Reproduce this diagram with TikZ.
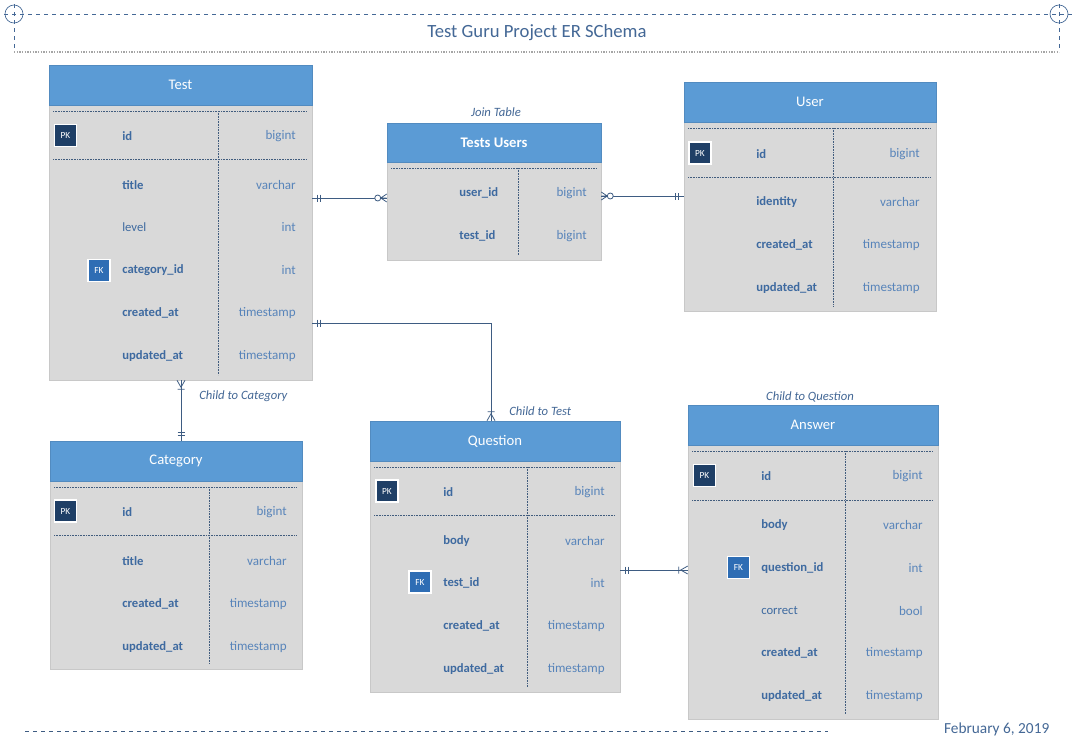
\documentclass[tikz,border=0pt]{standalone}
\usepackage{fontspec}
\setmainfont{Carlito}
\usetikzlibrary{positioning}
\definecolor{headblue}{RGB}{91,155,213}
\definecolor{bodygray}{RGB}{217,217,217}
\definecolor{edgegray}{RGB}{200,200,200}
\definecolor{fieldblue}{RGB}{62,106,160}
\definecolor{typeblue}{RGB}{88,132,186}
\definecolor{linkblue}{RGB}{62,92,130}
\definecolor{pknavy}{RGB}{31,63,102}
\definecolor{fkblue}{RGB}{46,109,180}
\definecolor{titleblue}{RGB}{68,104,150}
\tikzstyle{tablehead}=[rectangle,fill=headblue,draw=headblue!90!black,text=white,font=\fontsize{11}{13}\selectfont,inner sep=0pt]
\tikzstyle{tablebody}=[rectangle,fill=bodygray,draw=edgegray,inner sep=0pt]
\tikzstyle{field}=[anchor=west,text=fieldblue,font=\fontsize{9.5}{11}\selectfont,inner sep=0pt,yshift=-0.75pt]
\tikzstyle{ftype}=[anchor=east,text=typeblue,font=\fontsize{9.8}{11}\selectfont,inner sep=0pt,yshift=-0.75pt]
\tikzstyle{pk}=[rectangle,fill=pknavy,draw=white,line width=0.9pt,minimum size=16.5pt,text=white,font=\fontsize{7}{8}\selectfont,inner sep=0pt]
\tikzstyle{fk}=[pk,fill=fkblue]
\tikzstyle{sep}=[draw=pknavy!85,line width=0.5pt,dash pattern=on 0.6pt off 0.6pt]
\tikzstyle{link}=[draw=linkblue,line width=0.6pt]
\tikzstyle{note}=[text=titleblue,font=\itshape\fontsize{9.5}{11}\selectfont,inner sep=0pt]
\tikzset{
  box/.style 2 args={minimum width=#1*0.75pt,minimum height=#2*0.75pt},
  onebar/.pic={\draw[link] (5,-3.5) -- (5,3.5) (8,-3.5) -- (8,3.5);},
  zeromany/.pic={\draw[link] (0,-4) -- (6,0) -- (0,4) (0,0) -- (6,0);
                 \draw[link,fill=white] (9,0) circle (3);},
  onemany/.pic={\draw[link] (0,-4) -- (7,0) -- (0,4) (9,-3.5) -- (9,3.5);}
}

\begin{document}
\begin{tikzpicture}[x=0.75pt,y=-0.75pt]
    \useasboundingbox[fill=white] (0,0) rectangle (1074,747);

    % title frame
    \draw[titleblue,dashed,line width=0.5pt] (4,14) -- (1072,14);
    \draw[titleblue,dashed,line width=0.5pt] (14,4) -- (14,52) (1059,4) -- (1059,52);
    \draw[gray!70,line width=0.8pt,dash pattern=on 1pt off 1pt] (14,52) -- (1059,52);
    \draw[titleblue,line width=0.5pt] (14,14) circle (9) (1059,14) circle (9);
    \node[text=titleblue,font=\fontsize{14}{16}\selectfont] (title) at (537,33) {Test Guru Project ER SChema};

    % Test
    \node[tablebody,box={263}{275}] (test-body) at (180.5,242.5) {};
    \node[tablehead,box={263}{40}] (test) at (180.5,85) {Test};
    \draw[sep] (53,111) -- (307,111) (53,159) -- (307,159) (218,111) -- (218,375);
    \node[pk] (test-pk) at (65.5,135.5) {PK};
    \node[fk] (test-fk) at (99,270.5) {FK};
    \foreach \y/\n/\t [count=\i] in {135/\textbf{id}/bigint, 184/\textbf{title}/varchar, 226/level/int,
        269/\textbf{category\_id}/int, 312/\textbf{created\_at}/timestamp, 355/\textbf{updated\_at}/timestamp}
    {
        \node[field] (test-n\i) at (122,\y) {\n};
        \node[ftype] (test-t\i) at (296,\y) {\t};
    }

    % Tests Users
    \node[tablebody,box={214}{98}] (tu-body) at (494,211) {};
    \node[tablehead,box={214}{39},font=\bfseries\fontsize{11}{13}\selectfont] (tu) at (494,142.5) {Tests Users};
    \draw[sep] (391,168) -- (596,168) (518,168) -- (518,255);
    \foreach \y/\n/\t [count=\i] in {192/\textbf{user\_id}/bigint, 235/\textbf{test\_id}/bigint}
    {
        \node[field] (tu-n\i) at (459,\y) {\n};
        \node[ftype] (tu-t\i) at (587,\y) {\t};
    }
    \node[note] (tu-note) at (496,112) {Join Table};

    % User
    \node[tablebody,box={252}{189}] (user-body) at (810,216.5) {};
    \node[tablehead,box={252}{40}] (user) at (810,102) {User};
    \draw[sep] (688,128) -- (931,128) (688,177) -- (931,177) (833,128) -- (833,306);
    \node[pk] (user-pk) at (700,153) {PK};
    \foreach \y/\n/\t [count=\i] in {153/\textbf{id}/bigint, 201/\textbf{identity}/varchar,
        244/\textbf{created\_at}/timestamp, 287/\textbf{updated\_at}/timestamp}
    {
        \node[field] (user-n\i) at (756,\y) {\n};
        \node[ftype] (user-t\i) at (920,\y) {\t};
    }

    % Category
    \node[tablebody,box={252}{188}] (cat-body) at (176,575) {};
    \node[tablehead,box={252}{40}] (cat) at (176,461) {Category};
    \draw[sep] (54,487) -- (297,487) (54,535) -- (297,535) (209,487) -- (209,664);
    \node[pk] (cat-pk) at (65.5,511) {PK};
    \foreach \y/\n/\t [count=\i] in {511/\textbf{id}/bigint, 560/\textbf{title}/varchar,
        603/\textbf{created\_at}/timestamp, 646/\textbf{updated\_at}/timestamp}
    {
        \node[field] (cat-n\i) at (122,\y) {\n};
        \node[ftype] (cat-t\i) at (287,\y) {\t};
    }

    % Question
    \node[tablebody,box={250}{231}] (quest-body) at (495,576.5) {};
    \node[tablehead,box={250}{40}] (quest) at (495,441) {Question};
    \draw[sep] (374,467) -- (615,467) (374,515) -- (615,515) (527,467) -- (527,687);
    \node[pk] (quest-pk) at (387,491) {PK};
    \node[fk] (quest-fk) at (420,582) {FK};
    \foreach \y/\n/\t [count=\i] in {491/\textbf{id}/bigint, 540/\textbf{body}/varchar, 582/\textbf{test\_id}/int,
        625/\textbf{created\_at}/timestamp, 668/\textbf{updated\_at}/timestamp}
    {
        \node[field] (quest-n\i) at (443,\y) {\n};
        \node[ftype] (quest-t\i) at (605,\y) {\t};
    }

    % Answer
    \node[tablebody,box={250}{274}] (ans-body) at (813,582) {};
    \node[tablehead,box={250}{40}] (ans) at (813,425) {Answer};
    \draw[sep] (692,451) -- (933,451) (692,500) -- (933,500) (845,451) -- (845,714);
    \node[pk] (ans-pk) at (704.5,475.5) {PK};
    \node[fk] (ans-fk) at (738.5,567.5) {FK};
    \foreach \y/\n/\t [count=\i] in {475/\textbf{id}/bigint, 524/\textbf{body}/varchar, 567/\textbf{question\_id}/int,
        610/correct/bool, 652/\textbf{created\_at}/timestamp, 695/\textbf{updated\_at}/timestamp}
    {
        \node[field] (ans-n\i) at (761,\y) {\n};
        \node[ftype] (ans-t\i) at (923,\y) {\t};
    }

    % relations
    \coordinate (test-tu) at (test-body.east |- 0,198);
    \coordinate (tu-test) at (tu-body.west |- test-tu);
    \draw[link] (test-tu) -- (tu-test);
    \pic at (test-tu) {onebar};
    \pic[rotate=180] at (tu-test) {zeromany};

    \coordinate (tu-user) at (tu-body.east |- 0,196);
    \coordinate (user-tu) at (user-body.west |- tu-user);
    \draw[link] (tu-user) -- (user-tu);
    \pic at (tu-user) {zeromany};
    \pic[rotate=180] at (user-tu) {onebar};

    \coordinate (test-quest) at (test-body.east |- 0,323);
    \coordinate (quest-test) at (quest.north -| 491,0);
    \draw[link] (test-quest) -| (quest-test);
    \pic at (test-quest) {onebar};
    \pic[rotate=90] at (quest-test) {onemany};
    \node[note,anchor=west] (quest-note) at (509,411) {Child to Test};

    \coordinate (test-cat) at (test-body.south -| 181,0);
    \coordinate (cat-test) at (cat.north -| test-cat);
    \draw[link] (test-cat) -- (cat-test);
    \pic[rotate=-90] at (test-cat) {onemany};
    \pic[rotate=90] at (cat-test) {onebar};
    \node[note,anchor=west] (cat-note) at (199,396) {Child to Category};

    \coordinate (quest-ans) at (quest-body.east |- 0,570);
    \coordinate (ans-quest) at (ans-body.west |- quest-ans);
    \draw[link] (quest-ans) -- (ans-quest);
    \pic at (quest-ans) {onebar};
    \pic[rotate=180] at (ans-quest) {onemany};
    \node[note] (ans-note) at (810,397) {Child to Question};

    % footer
    \draw[linkblue,dashed,line width=0.5pt] (25,731) -- (828,731);
    \node[anchor=east,text=titleblue,font=\fontsize{11.5}{13}\selectfont] (date) at (1054,729) {February 6, 2019};
\end{tikzpicture}
\end{document}
